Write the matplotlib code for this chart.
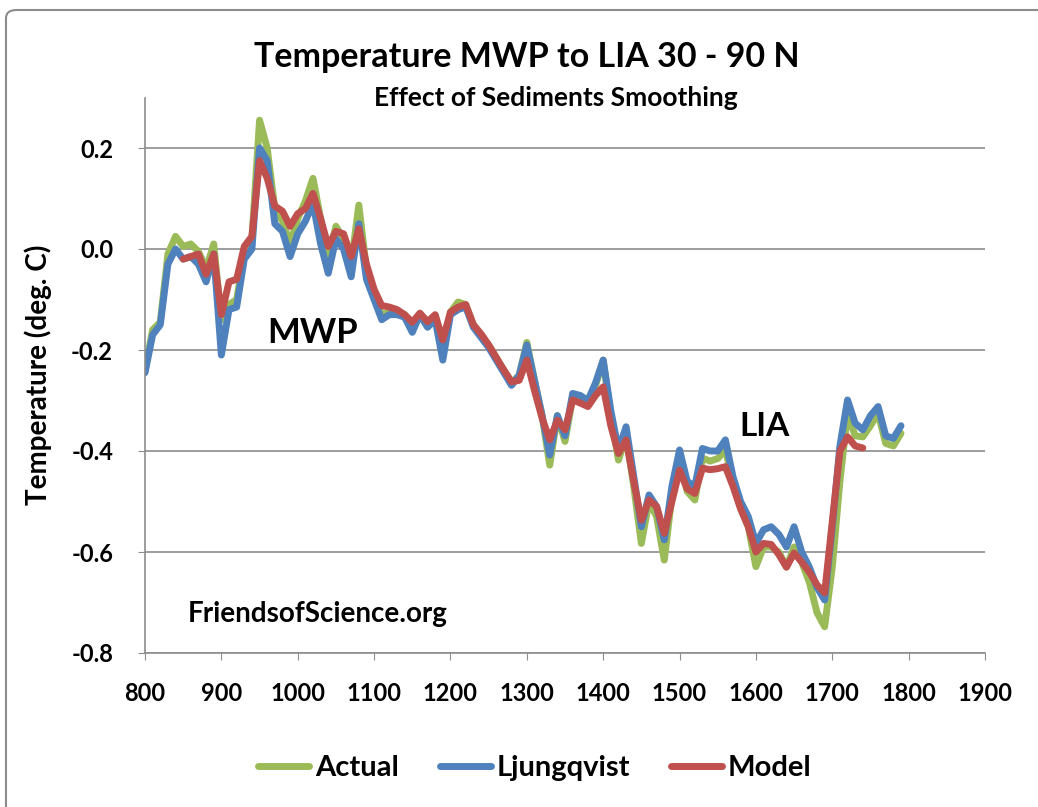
import matplotlib
matplotlib.use("Agg")
import matplotlib.pyplot as plt
from matplotlib.patches import FancyBboxPatch
import numpy as np

plt.rcParams['font.family'] = ['Lato', 'DejaVu Sans']
plt.rcParams['font.weight'] = 'bold'

years = list(range(800, 1800, 10))
actual = [-0.24, -0.16, -0.145, -0.01, 0.025, 0.005, 0.01, -0.005, -0.04, 0.01,
          -0.14, -0.11, -0.10, -0.01, 0.02, 0.255, 0.20, 0.08, 0.055, 0.01,
          0.06, 0.095, 0.14, 0.06, -0.015, 0.045, 0.02, -0.03, 0.087, -0.04,
          -0.09, -0.13, -0.125, -0.125, -0.13, -0.155, -0.13, -0.15, -0.135, -0.20,
          -0.125, -0.105, -0.11, -0.15, -0.17, -0.19, -0.215, -0.24, -0.265, -0.25,
          -0.185, -0.26, -0.33, -0.428, -0.33, -0.381, -0.295, -0.295, -0.30, -0.27,
          -0.22, -0.33, -0.418, -0.37, -0.47, -0.583, -0.50, -0.53, -0.616, -0.49,
          -0.42, -0.48, -0.497, -0.414, -0.42, -0.415, -0.398, -0.46, -0.51, -0.55,
          -0.629, -0.59, -0.59, -0.60, -0.63, -0.59, -0.62, -0.66, -0.72, -0.748,
          -0.63, -0.46, -0.325, -0.37, -0.372, -0.35, -0.325, -0.385, -0.39, -0.365]
ljungqvist = [-0.245, -0.17, -0.15, -0.03, 0.0, -0.02, -0.015, -0.03, -0.065, -0.01,
              -0.21, -0.12, -0.115, -0.02, 0.0, 0.20, 0.175, 0.05, 0.035, -0.015,
              0.03, 0.055, 0.09, 0.01, -0.048, 0.02, 0.0, -0.055, 0.05, -0.06,
              -0.10, -0.14, -0.13, -0.13, -0.135, -0.165, -0.13, -0.155, -0.14, -0.22,
              -0.13, -0.12, -0.115, -0.155, -0.175, -0.195, -0.22, -0.245, -0.27, -0.25,
              -0.19, -0.26, -0.33, -0.408, -0.33, -0.37, -0.286, -0.29, -0.30, -0.265,
              -0.22, -0.32, -0.398, -0.352, -0.45, -0.55, -0.487, -0.51, -0.576, -0.47,
              -0.398, -0.46, -0.47, -0.395, -0.40, -0.40, -0.378, -0.451, -0.50, -0.53,
              -0.583, -0.556, -0.55, -0.565, -0.59, -0.55, -0.60, -0.63, -0.67, -0.695,
              -0.55, -0.39, -0.299, -0.345, -0.358, -0.33, -0.312, -0.37, -0.375, -0.35]
model_years = list(range(850, 1750, 10))
model = [-0.02, -0.015, -0.01, -0.05, -0.01,
         -0.13, -0.065, -0.06, 0.005, 0.025, 0.175, 0.14, 0.085, 0.075, 0.045,
         0.07, 0.08, 0.11, 0.06, 0.005, 0.035, 0.03, -0.015, 0.04, -0.03,
         -0.08, -0.112, -0.115, -0.12, -0.13, -0.145, -0.127, -0.144, -0.13, -0.18,
         -0.125, -0.115, -0.11, -0.15, -0.168, -0.19, -0.215, -0.24, -0.263, -0.26,
         -0.22, -0.28, -0.335, -0.378, -0.339, -0.358, -0.299, -0.305, -0.312, -0.29,
         -0.273, -0.35, -0.405, -0.378, -0.46, -0.537, -0.497, -0.51, -0.563, -0.50,
         -0.438, -0.475, -0.484, -0.434, -0.437, -0.435, -0.431, -0.47, -0.515, -0.55,
         -0.60, -0.583, -0.585, -0.605, -0.63, -0.602, -0.62, -0.64, -0.665, -0.681,
         -0.54, -0.40, -0.372, -0.39, -0.394]

x_ticks = list(range(800, 2000, 100))
y_ticks = [-0.8, -0.6, -0.4, -0.2, 0.0, 0.2]
y_tick_labels = ['-0.8', '-0.6', '-0.4', '-0.2', '0.0', '0.2']

green = '#9BBB59'
blue = '#4F81BD'
red = '#C0504D'

fig = plt.figure(figsize=(10.38, 8.07), dpi=100)
# chart border
border = FancyBboxPatch((6 / 1038, -0.05), 1.1, 1.05 - 10 / 807,
                        boxstyle="round,pad=0,rounding_size=0.01",
                        transform=fig.transFigure, fill=False,
                        edgecolor='#8c8c8c', linewidth=1.5)
fig.patches.append(border)

ax = fig.add_axes([145 / 1038, 1 - 653 / 807, (985 - 145) / 1038, (653 - 97.5) / 807])
lw = 5.0
ax.plot(years, actual, color=green, lw=lw, label='Actual', solid_joinstyle='round', solid_capstyle='round')
ax.plot(years, ljungqvist, color=blue, lw=lw, label='Ljungqvist', solid_joinstyle='round', solid_capstyle='round')
ax.plot(model_years, model, color=red, lw=lw, label='Model', solid_joinstyle='round', solid_capstyle='round')

ax.set_xlim(800, 1900)
ax.set_ylim(-0.8, 0.3)
ax.set_xticks(x_ticks)
ax.set_xticklabels([str(x) for x in x_ticks], fontsize=17, fontweight='bold')
ax.set_yticks(y_ticks)
ax.set_yticklabels(y_tick_labels, fontsize=17, fontweight='bold')
ax.grid(axis='y', color='#8c8c8c', linewidth=1.2)
ax.set_axisbelow(True)
for s in ['top', 'right']:
    ax.spines[s].set_visible(False)
for s in ['left', 'bottom']:
    ax.spines[s].set_color('#8c8c8c')
    ax.spines[s].set_linewidth(1.2)
ax.tick_params(axis='both', direction='out', length=5, color='#8c8c8c')
ax.tick_params(axis='y', pad=18)
ax.tick_params(axis='x', pad=16)
ax.set_ylabel('Temperature (deg. C)', fontsize=20, fontweight='bold', labelpad=14)

fig.text(527 / 1038, 1 - 57 / 807, 'Temperature MWP to LIA 30 - 90 N', ha='center', va='center',
         fontsize=24.5, fontweight='bold')
fig.text(556 / 1038, 1 - 98 / 807, 'Effect of Sediments Smoothing', ha='center', va='center',
         fontsize=19, fontweight='bold')
fig.text(313 / 1038, 1 - 333 / 807, 'MWP', ha='center', va='center', fontsize=25, fontweight='bold')
fig.text(764 / 1038, 1 - 426 / 807, 'LIA', ha='center', va='center', fontsize=24, fontweight='bold')
fig.text(318 / 1038, 1 - 614 / 807, 'FriendsofScience.org', ha='center', va='center', fontsize=20,
         fontweight='bold')

leg = fig.legend(loc='center', bbox_to_anchor=(535 / 1038, 1 - 768 / 807), ncol=3, frameon=False,
                 prop={'size': 21, 'weight': 'bold'}, handlelength=1.75, handletextpad=0.2,
                 columnspacing=1.4)

fig.savefig('out.png', dpi=100)
